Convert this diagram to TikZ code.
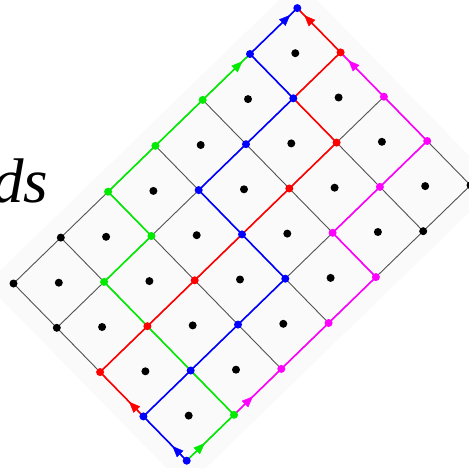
\documentclass[tikz,border=0pt]{standalone}
\usepackage{fontspec}
\newfontfamily\tnr{Liberation Serif}
\usetikzlibrary{arrows.meta,decorations.markings}
\definecolor{pgreen}{RGB}{0,235,0}
\definecolor{pblue}{RGB}{0,0,255}
\definecolor{pred}{RGB}{255,0,0}
\definecolor{pmag}{RGB}{255,0,255}
\tikzset{
  gridline/.style={draw=black!68, line width=0.9pt},
  pathline/.style={line width=1.6pt, line join=miter},
  vdot/.style={circle, fill=#1, inner sep=0pt, minimum size=8pt},
  cdot/.style={circle, fill=black, inner sep=0pt, minimum size=8pt},
  tipat/.style={postaction={decorate}, decoration={markings, mark=at position #1 with {\arrow{Triangle[length=11pt,width=9pt]}}}}
}
\begin{document}
\begin{tikzpicture}
\useasboundingbox (0pt,0pt) rectangle (469pt,-468pt);
\node[anchor=base west, inner sep=0pt] (lbl) at (-8pt,-203pt) {\tnr\fontsize{63}{70}\selectfont\itshape ds};
\begin{scope}[shift={(186.7pt,-460.7pt)}, x={(47.3pt,45.9pt)}, y={(-43.3pt,44.3pt)}]
  \fill[black!2] (-0.3,-0.3) -- (6.3,-0.3) -- (6.3,4.3) -- (-0.3,4.3) -- cycle;
  \foreach \i in {0,...,6} {
    \foreach \j in {0,...,4} {
      \coordinate (p\i\j) at (\i,\j);
    }
  }
  % grid
  \foreach \j in {0,...,4} { \draw[gridline] (p0\j) -- (p6\j); }
  \foreach \i in {0,...,6} { \draw[gridline] (p\i0) -- (p\i4); }
  % cell centres
  \foreach \i in {0,...,5} {
    \foreach \j in {0,...,3} {
      \node[cdot] (c\i\j) at (\i+0.5,\j+0.5) {};
    }
  }
  % paths
  \draw[pathline, pmag] (p10) -- (p40) -- (p41) -- (p61) -- (p63);
  \draw[pathline, pgreen] (p00) -- (p10) -- (p13) -- (p23) -- (p24) -- (p54);
  \draw[pathline, pred] (p01) -- (p02) -- (p52) -- (p53) -- (p63) -- (p64);
  \draw[pathline, pblue] (p00) -- (p01) -- (p31) -- (p33) -- (p53) -- (p54) -- (p64);
  % arrows
  \path[pmag, tipat=0.4] (p10) -- (p20);
  \path[pmag, tipat=0.82] (p62) -- (p63);
  \path[pgreen, tipat=0.38] (p00) -- (p10);
  \path[pgreen, tipat=0.84] (p44) -- (p54);
  \path[pred, tipat=0.33] (p01) -- (p02);
  \path[pred, tipat=0.84] (p63) -- (p64);
  \path[pblue, tipat=0.33] (p00) -- (p01);
  \path[pblue, tipat=0.85] (p54) -- (p64);
  % vertex dots
  \foreach \p in {03,04,14,50,60} { \node[vdot=black] (d\p) at (p\p) {}; }
  \foreach \p in {20,30,40,41,51,61,62} { \node[vdot=pmag] (d\p) at (p\p) {}; }
  \foreach \p in {10,13,23,24,34,44} { \node[vdot=pgreen] (d\p) at (p\p) {}; }
  \foreach \p in {02,12,22,42,52,63} { \node[vdot=pred] (d\p) at (p\p) {}; }
  \foreach \p in {00,01,11,21,31,32,33,43,53,54,64} { \node[vdot=pblue] (d\p) at (p\p) {}; }
\end{scope}
\end{tikzpicture}
\end{document}
